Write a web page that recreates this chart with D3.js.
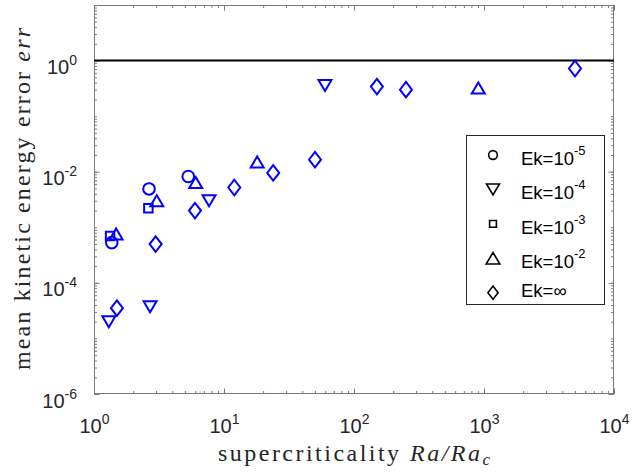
<!DOCTYPE html>
<html>
<head>
<meta charset="utf-8">
<script src="https://cdn.jsdelivr.net/npm/d3@7"></script>
<style>
  body { margin: 0; background: #fff; }
  svg { display: block; }
</style>
</head>
<body>
<svg id="chart" width="633" height="474"></svg>
<script>
// Mean kinetic energy error vs. supercriticality, one series per Ekman number
const ek5X = [1.37, 2.65, 5.31];
const ek5Y = [5.3e-4, 4.9e-3, 8.2e-3];

const ek4X = [1.30, 2.70, 7.67, 59.8];
const ek4Y = [2.0e-5, 3.7e-5, 3.0e-3, 0.355];

const ek3X = [1.33, 2.62];
const ek3Y = [7.0e-4, 2.2e-3];

const ek2X = [1.48, 3.04, 6.06, 18.0, 904];
const ek2Y = [7.6e-4, 3.0e-3, 6.4e-3, 0.015, 0.32];

const ekInfX = [1.50, 2.98, 5.98, 12.0, 23.9, 50.1, 150, 251, 5012];
const ekInfY = [3.5e-5, 5.0e-4, 2.0e-3, 5.2e-3, 9.5e-3, 0.0165, 0.34, 0.30, 0.72];

const seriesMarkers = ["circle", "triangleDown", "square", "triangleUp", "diamond"];
const legendBase = ["Ek=10", "Ek=10", "Ek=10", "Ek=10", "Ek=\u221E"];
const legendExp = ["-5", "-4", "-3", "-2", ""];

const xTickValues = [1, 10, 100, 1000, 10000];
const xTickExp = ["0", "1", "2", "3", "4"];
const yTickValues = [1e-6, 1e-4, 1e-2, 1];
const yTickExp = ["-6", "-4", "-2", "0"];
const referenceLevel = 1;

const series = [
  { xs: ek5X, ys: ek5Y },
  { xs: ek4X, ys: ek4Y },
  { xs: ek3X, ys: ek3Y },
  { xs: ek2X, ys: ek2Y },
  { xs: ekInfX, ys: ekInfY }
].map((s, i) => ({
  marker: seriesMarkers[i],
  points: s.xs.map((x, j) => ({ x, y: s.ys[j] }))
}));

const svg = d3.select("#chart");
const L = 94, R = 614, T = 5, B = 394;
const x = d3.scaleLog().domain([1, 1e4]).range([L, R]);
const y = d3.scaleLog().domain([1e-6, 1e1]).range([B, T]);

const axisColor = "#7a7a7a";
const textColor = "#262626";
const sans = "'Liberation Sans', Arial, Helvetica, sans-serif";
const serif = "'Liberation Serif', 'Times New Roman', serif";

// Marker outlines, centred on the data point
function markerPath(type, s) {
  switch (type) {
    case "triangleDown": {
      const w = 13 * s, h = 11 * s;
      return `M${-w / 2},${-h / 2}L${w / 2},${-h / 2}L0,${h / 2}Z`;
    }
    case "triangleUp": {
      const w = 13 * s, h = 11 * s;
      return `M${-w / 2},${h / 2}L${w / 2},${h / 2}L0,${-h / 2}Z`;
    }
    case "square": {
      const a = 8.5 * s / 2;
      return `M${-a},${-a}H${a}V${a}H${-a}Z`;
    }
    case "diamond": {
      const w = 12 * s / 2, h = 15.5 * s / 2;
      return `M0,${-h}L${w},0L0,${h}L${-w},0Z`;
    }
    default: {
      const r = 5.8 * s;
      return `M${r},0A${r},${r} 0 1,1 ${-r},0A${r},${r} 0 1,1 ${r},0Z`;
    }
  }
}

// Minor tick positions: 1..9 times every decade
function minorTicks(lo, hi) {
  const out = [];
  for (let e = lo; e < hi; e++) {
    for (let m = 1; m < 10; m++) out.push(m * Math.pow(10, e));
  }
  out.push(Math.pow(10, hi));
  return out;
}
const xMinor = minorTicks(0, 4);
const yMinor = minorTicks(-6, 1);

const g = svg.append("g");

// Ticks on all four sides, pointing inwards
function drawAxis(axis, transform, cls) {
  const a = g.append("g").attr("class", cls).attr("transform", transform).call(axis);
  a.select(".domain").remove();
  a.selectAll("line").attr("stroke", axisColor).attr("stroke-width", 1);
  return a;
}
drawAxis(d3.axisBottom(x).tickValues(xMinor).tickSize(-3).tickFormat(""), `translate(0,${B})`, "x-minor");
drawAxis(d3.axisTop(x).tickValues(xMinor).tickSize(-3).tickFormat(""), `translate(0,${T})`, "x-minor-top");
drawAxis(d3.axisLeft(y).tickValues(yMinor).tickSize(-3).tickFormat(""), `translate(${L},0)`, "y-minor");
drawAxis(d3.axisRight(y).tickValues(yMinor).tickSize(-3).tickFormat(""), `translate(${R},0)`, "y-minor-right");
drawAxis(d3.axisTop(x).tickValues(xTickValues).tickSize(-5.5).tickFormat(""), `translate(0,${T})`, "x-major-top");
drawAxis(d3.axisRight(y).tickValues(yTickValues).tickSize(-5.5).tickFormat(""), `translate(${R},0)`, "y-major-right");

const xAxis = drawAxis(d3.axisBottom(x).tickValues(xTickValues).tickSize(-5.5), `translate(0,${B})`, "x-axis");
const yAxis = drawAxis(d3.axisLeft(y).tickValues(yTickValues).tickSize(-5.5), `translate(${L},0)`, "y-axis");

// Power-of-ten tick labels with superscript exponents
function powerLabel(sel, exps) {
  sel.each(function (d, i) {
    const t = d3.select(this);
    t.text(null);
    t.append("tspan").text("10");
    t.append("tspan").attr("font-size", 14).attr("dy", -9).text(exps[i]);
  });
}
xAxis.selectAll("text")
  .attr("y", 39).attr("dy", 0)
  .attr("font-family", sans).attr("font-size", 20).attr("fill", textColor)
  .call(powerLabel, xTickExp);
yAxis.selectAll("text")
  .attr("x", -17).attr("dy", 0).attr("y", 13)
  .attr("font-family", sans).attr("font-size", 20).attr("fill", textColor)
  .call(powerLabel, yTickExp);

// Plot frame
g.append("rect")
  .attr("x", L + 0.5).attr("y", T + 0.5)
  .attr("width", R - L - 1).attr("height", B - T - 1)
  .attr("fill", "none").attr("stroke", axisColor).attr("stroke-width", 1);

// Reference level err = 1
g.append("line")
  .attr("x1", L).attr("x2", R)
  .attr("y1", y(referenceLevel)).attr("y2", y(referenceLevel))
  .attr("stroke", "#000").attr("stroke-width", 2);

// Data markers
const marks = g.append("g").attr("class", "marks");
series.forEach(s => {
  marks.selectAll(null)
    .data(s.points)
    .join("path")
    .attr("transform", d => `translate(${x(d.x)},${y(d.y)})`)
    .attr("d", markerPath(s.marker, 1))
    .attr("fill", "none")
    .attr("stroke", "#0000ff")
    .attr("stroke-width", 2)
    .attr("stroke-linejoin", "miter");
});

// Legend
const leg = g.append("g").attr("class", "legend");
leg.append("rect")
  .attr("x", 466.5).attr("y", 135.5).attr("width", 138).attr("height", 169)
  .attr("fill", "#fff").attr("stroke", textColor).attr("stroke-width", 1);
const legendScale = [0.75, 1.0, 0.8, 1.05, 0.85];
const rowY = d3.scaleLinear().domain([0, 4]).range([155, 292.7]);
seriesMarkers.forEach((m, i) => {
  const cy = rowY(i);
  leg.append("path")
    .attr("transform", `translate(493,${cy})`)
    .attr("d", markerPath(m, legendScale[i]))
    .attr("fill", "none").attr("stroke", "#000").attr("stroke-width", 1.6);
  const t = leg.append("text")
    .attr("x", 521).attr("y", legendExp[i] ? cy + 10 : cy + 4.5)
    .attr("font-family", sans).attr("font-size", 18.5).attr("fill", "#000");
  t.append("tspan").text(legendBase[i]);
  if (legendExp[i]) t.append("tspan").attr("font-size", 13).attr("dy", -10).text(legendExp[i]);
});

// Axis titles
const xt = svg.append("text")
  .attr("x", 354).attr("y", 461).attr("text-anchor", "middle")
  .attr("font-family", serif).attr("font-size", 24).attr("fill", textColor)
  .attr("textLength", 272).attr("lengthAdjust", "spacing");
xt.append("tspan").text("supercriticality ");
xt.append("tspan").attr("font-style", "italic").text("Ra/Ra");
xt.append("tspan").attr("font-style", "italic").attr("font-size", 17).attr("dy", 4).text("c");

const yt = svg.append("text")
  .attr("transform", "translate(30,199) rotate(-90)")
  .attr("text-anchor", "middle")
  .attr("font-family", serif).attr("font-size", 24).attr("fill", textColor)
  .attr("textLength", 342).attr("lengthAdjust", "spacing");
yt.append("tspan").text("mean kinetic energy error ");
yt.append("tspan").attr("font-style", "italic").text("err");
</script>
</body>
</html>
